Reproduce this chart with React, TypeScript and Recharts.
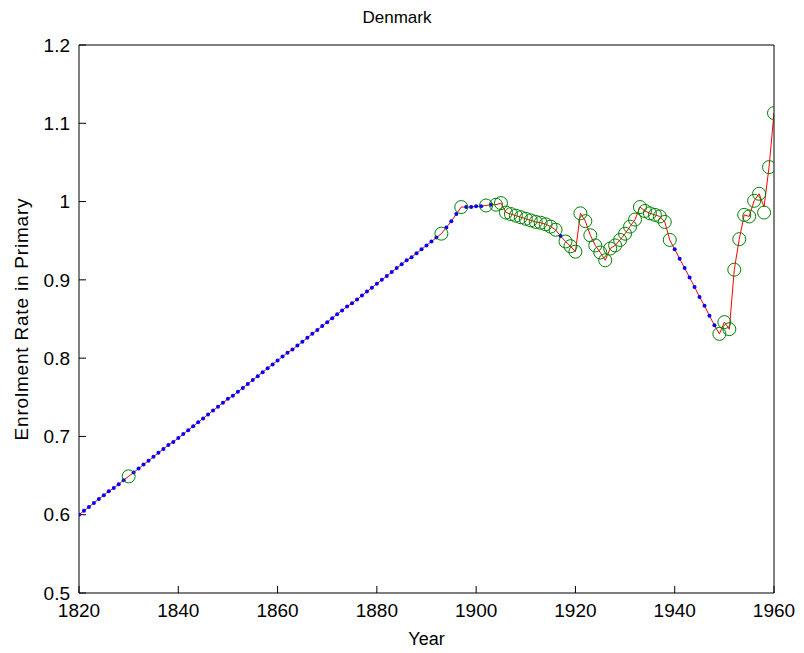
import React from 'react';
import { ComposedChart, Line, XAxis, YAxis } from 'recharts';

// enrolment rate, one value per year from 1820 to 1960 (red line)
const startYear = 1820;
const rate = [
  0.600, 0.605, 0.610, 0.615, 0.620, 0.625, 0.630, 0.634, 0.639, 0.644,
  0.649, 0.654, 0.659, 0.664, 0.669, 0.674, 0.679, 0.684, 0.689, 0.693,
  0.698, 0.703, 0.708, 0.713, 0.718, 0.723, 0.728, 0.733, 0.738, 0.743,
  0.748, 0.752, 0.757, 0.762, 0.767, 0.772, 0.777, 0.782, 0.787, 0.792,
  0.797, 0.802, 0.807, 0.811, 0.816, 0.821, 0.826, 0.831, 0.836, 0.841,
  0.846, 0.851, 0.856, 0.861, 0.866, 0.870, 0.875, 0.880, 0.885, 0.890,
  0.895, 0.900, 0.905, 0.910, 0.915, 0.920, 0.925, 0.929, 0.934, 0.939,
  0.944, 0.949, 0.954, 0.959, 0.967, 0.975, 0.984, 0.993, 0.993, 0.993,
  0.994, 0.994, 0.995, 0.996, 0.996, 0.998, 0.986, 0.984, 0.982, 0.980,
  0.978, 0.976, 0.974, 0.973, 0.971, 0.968, 0.964, 0.956, 0.949, 0.943,
  0.936, 0.985, 0.975, 0.957, 0.944, 0.935, 0.925, 0.940, 0.944, 0.951,
  0.959, 0.968, 0.977, 0.993, 0.988, 0.985, 0.983, 0.981, 0.974, 0.951,
  0.939, 0.927, 0.915, 0.903, 0.891, 0.878, 0.867, 0.854, 0.842, 0.831,
  0.846, 0.837, 0.913, 0.952, 0.983, 0.981, 1.001, 1.010, 0.993, 1.044,
  1.113,
];

// observed years (green circles)
const obsYears = [
  1830, 1893, 1897, 1902, 1904, 1905, 1906, 1907, 1908, 1909, 1910, 1911,
  1912, 1913, 1914, 1915, 1916, 1918, 1919, 1920, 1921, 1922, 1923, 1924,
  1925, 1926, 1927, 1928, 1929, 1930, 1931, 1932, 1933, 1934, 1935, 1936,
  1937, 1938, 1939, 1949, 1950, 1951, 1952, 1953, 1954, 1955, 1956, 1957,
  1958, 1959, 1960,
];
const obsValues = [
  0.649, 0.959, 0.993, 0.995, 0.996, 0.998, 0.986, 0.984, 0.982, 0.980, 0.978, 0.976,
  0.974, 0.973, 0.971, 0.968, 0.964, 0.949, 0.943, 0.936, 0.985, 0.975, 0.957, 0.944,
  0.935, 0.925, 0.940, 0.944, 0.951, 0.959, 0.968, 0.977, 0.993, 0.988, 0.985, 0.983,
  0.981, 0.974, 0.951, 0.831, 0.846, 0.837, 0.913, 0.952, 0.983, 0.981, 1.001, 1.010,
  0.986, 1.044, 1.113,
];

const xTicks = [1820, 1840, 1860, 1880, 1900, 1920, 1940, 1960];
const yTicks = [0.5, 0.6, 0.7, 0.8, 0.9, 1.0, 1.1, 1.2];

const data = rate.map((v, i) => {
  const year = startYear + i;
  const k = obsYears.indexOf(year);
  return {
    year,
    rate: v,
    est: k < 0 ? v : null,
    obs: k < 0 ? null : obsValues[k],
  };
});

const font = 'Arial, "Liberation Sans", Helvetica, sans-serif';
const tickStyle = { fill: '#000', fontSize: 19, fontFamily: font };

export default function App() {
  return (
    <div style={{ position: 'relative', width: 790, height: 640, fontFamily: font }}>
      <div
        style={{
          position: 'absolute', left: 289, width: 200, top: 0,
          textAlign: 'center', fontSize: 17, color: '#000',
        }}
      >
        Denmark
      </div>
      <ComposedChart
        width={790}
        height={640}
        data={data}
        margin={{ top: 36, right: 23, bottom: 0, left: 11 }}
      >
        <XAxis
          xAxisId="b"
          dataKey="year"
          type="number"
          domain={[1820, 1960]}
          ticks={xTicks}
          allowDataOverflow
          height={55}
          tickSize={-7}
          tickMargin={18}
          stroke="#000"
          tick={tickStyle}
          label={{ value: 'Year', position: 'insideBottom', offset: 3, fill: '#000', fontSize: 18, fontFamily: font }}
        />
        <XAxis
          xAxisId="t"
          orientation="top"
          dataKey="year"
          type="number"
          domain={[1820, 1960]}
          ticks={xTicks}
          allowDataOverflow
          height={1}
          tickSize={-7}
          tick={false}
          stroke="#000"
        />
        <YAxis
          yAxisId="l"
          type="number"
          domain={[0.5, 1.2]}
          ticks={yTicks}
          allowDataOverflow
          width={60}
          tickSize={-7}
          tickMargin={16}
          stroke="#000"
          tick={tickStyle}
          tickFormatter={(v: number) => `${+v.toFixed(1)}`}
          label={{
            value: 'Enrolment Rate in Primary',
            angle: -90,
            position: 'insideLeft',
            offset: 0,
            dx: 2,
            fill: '#000',
            fontSize: 19,
            fontFamily: font,
            style: { textAnchor: 'middle', letterSpacing: 0.8 },
          }}
        />
        <YAxis
          yAxisId="r"
          orientation="right"
          type="number"
          domain={[0.5, 1.2]}
          ticks={yTicks}
          allowDataOverflow
          width={1}
          tickSize={-7}
          tick={false}
          stroke="#000"
        />
        <Line
          xAxisId="b"
          yAxisId="l"
          dataKey="rate"
          stroke="#ff0000"
          strokeWidth={1}
          dot={false}
          activeDot={false}
          isAnimationActive={false}
        />
        <Line
          xAxisId="b"
          yAxisId="l"
          dataKey="est"
          stroke="none"
          dot={{ r: 2, fill: '#0000ff', stroke: 'none' }}
          activeDot={false}
          isAnimationActive={false}
        />
        <Line
          xAxisId="b"
          yAxisId="l"
          dataKey="obs"
          stroke="none"
          dot={{ r: 6.5, fill: 'none', stroke: '#008000', strokeWidth: 1 }}
          activeDot={false}
          isAnimationActive={false}
        />
      </ComposedChart>
    </div>
  );
}
